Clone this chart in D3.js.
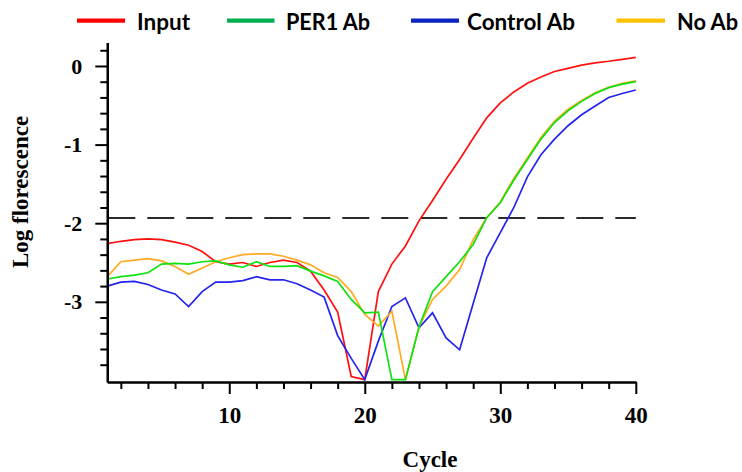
<!DOCTYPE html>
<html>
<head>
<meta charset="utf-8">
<script src="https://cdn.jsdelivr.net/npm/d3@7"></script>
<style>
  html, body { margin: 0; padding: 0; background: #ffffff; }
  svg { display: block; }
</style>
</head>
<body>
<svg id="chart" width="742" height="472"></svg>
<script>
// Amplification cycles
const cycles = [1, 2, 3, 4, 5, 6, 7, 8, 9, 10, 11, 12, 13, 14, 15, 16, 17, 18, 19, 20,
                21, 22, 23, 24, 25, 26, 27, 28, 29, 30, 31, 32, 33, 34, 35, 36, 37, 38, 39, 40];

// Log fluorescence per cycle for each sample
const inputValues = [-2.26, -2.23, -2.21, -2.20, -2.21, -2.24, -2.28, -2.36, -2.49, -2.52,
                     -2.50, -2.55, -2.50, -2.47, -2.50, -2.61, -2.85, -3.13, -3.95, -3.99,
                     -2.87, -2.52, -2.29, -1.97, -1.71, -1.44, -1.19, -0.92, -0.66, -0.47,
                     -0.33, -0.22, -0.14, -0.07, -0.03, 0.01, 0.04, 0.06, 0.085, 0.11];
const per1Values = [-2.71, -2.68, -2.66, -2.63, -2.52, -2.51, -2.52, -2.49, -2.48, -2.53,
                    -2.56, -2.49, -2.55, -2.55, -2.54, -2.61, -2.67, -2.74, -2.97, -3.14,
                    -3.13, -3.99, -3.99, -3.32, -2.87, -2.68, -2.49, -2.27, -1.93, -1.74,
                    -1.45, -1.19, -0.93, -0.72, -0.57, -0.45, -0.35, -0.275, -0.23, -0.20];
const controlValues = [-2.80, -2.75, -2.74, -2.78, -2.85, -2.90, -3.06, -2.87, -2.75, -2.75,
                       -2.73, -2.68, -2.72, -2.72, -2.77, -2.85, -2.94, -3.43, -3.72, -3.99,
                       -3.50, -3.06, -2.95, -3.33, -3.14, -3.46, -3.61, -3.02, -2.44, -2.12,
                       -1.80, -1.41, -1.13, -0.93, -0.76, -0.62, -0.51, -0.40, -0.35, -0.305];
const noAbValues = [-2.68, -2.49, -2.47, -2.45, -2.48, -2.55, -2.65, -2.57, -2.49, -2.44,
                    -2.40, -2.39, -2.39, -2.42, -2.47, -2.53, -2.63, -2.69, -2.87, -3.16,
                    -3.31, -3.12, -3.99, -3.32, -2.97, -2.80, -2.59, -2.21, -1.93, -1.73,
                    -1.43, -1.17, -0.91, -0.70, -0.55, -0.44, -0.34, -0.27, -0.22, -0.19];

// Detection threshold
const thresholdValue = -1.935;

// Legend text, in drawing order
const legendLabels = ["Input", "PER1 Ab", "Control Ab", "No Ab"];

// Axis ticks
const xMajorTicks = [10, 20, 30, 40];
const xMinorTicks = [2, 4, 6, 8, 12, 14, 16, 18, 22, 24, 26, 28, 32, 34, 36, 38];
const yMajorTicks = [0, -1, -2, -3];
const yMinorTicks = [0.2, -0.2, -0.4, -0.6, -0.8, -1.2, -1.4, -1.6, -1.8,
                     -2.2, -2.4, -2.6, -2.8, -3.2, -3.4, -3.6, -3.8];

const series = [
  { name: legendLabels[0], values: inputValues,   line: "#ff1010", key: "#ff0000" },
  { name: legendLabels[1], values: per1Values,    line: "#10e010", key: "#00b050" },
  { name: legendLabels[2], values: controlValues, line: "#2424f0", key: "#0a22c0" },
  { name: legendLabels[3], values: noAbValues,    line: "#ffaa22", key: "#ffc000" }
];

const svg = d3.select("#chart");

const x = d3.scaleLinear().domain([1, 40]).range([107.3, 635.8]);
const y = d3.scaleLinear().domain([-4.02, 0.3]).range([382, 42.4]);

const serif = "'Liberation Serif', 'Times New Roman', serif";

// Threshold line
svg.append("line")
  .attr("x1", x(1) + 1).attr("x2", x(40))
  .attr("y1", y(thresholdValue)).attr("y2", y(thresholdValue))
  .attr("stroke", "#2a2a2a")
  .attr("stroke-width", 2)
  .attr("stroke-dasharray", "27,12");

// Amplification curves
const line = d3.line()
  .x((d, i) => x(cycles[i]))
  .y(d => y(d));

const drawOrder = [0, 2, 3, 1];
drawOrder.forEach(k => {
  const s = series[k];
  svg.append("path")
    .datum(s.values)
    .attr("fill", "none")
    .attr("stroke", s.line)
    .attr("stroke-width", 1.7)
    .attr("stroke-linejoin", "miter")
    .attr("d", line);
});

// X axis: minor ticks, then labelled major ticks
const xMinor = svg.append("g")
  .attr("transform", `translate(0,${y(-4.02)})`)
  .call(d3.axisBottom(x).tickValues(xMinorTicks).tickSize(7).tickSizeOuter(0).tickFormat(""));
const xMajor = svg.append("g")
  .attr("transform", `translate(0,${y(-4.02)})`)
  .call(d3.axisBottom(x).tickValues(xMajorTicks).tickSize(12).tickSizeOuter(0).tickPadding(13));

// Y axis
const yMinor = svg.append("g")
  .attr("transform", `translate(${x(1)},0)`)
  .call(d3.axisLeft(y).tickValues(yMinorTicks).tickSize(7).tickSizeOuter(0).tickFormat(""));
const yMajor = svg.append("g")
  .attr("transform", `translate(${x(1)},0)`)
  .call(d3.axisLeft(y).tickValues(yMajorTicks).tickSize(12).tickSizeOuter(0).tickPadding(13)
        .tickFormat(d => d === 0 ? "0" : "-" + Math.abs(d)));

[xMinor, xMajor, yMinor, yMajor].forEach(g => {
  g.select(".domain").attr("stroke", "#000").attr("stroke-width", 2.2);
  g.selectAll(".tick line").attr("stroke", "#000").attr("stroke-width", 2);
  g.selectAll(".tick text")
    .attr("fill", "#000")
    .style("font-family", serif)
    .style("font-weight", "bold")
    .style("font-size", "22px");
});
xMajor.selectAll(".tick text").attr("dy", "0.71em").style("font-size", "23px");

// Axis titles
svg.append("text")
  .attr("x", 430).attr("y", 467)
  .attr("text-anchor", "middle")
  .style("font-family", serif).style("font-weight", "bold").style("font-size", "23px")
  .text("Cycle");

svg.append("text")
  .attr("transform", "translate(28,192) rotate(-90)")
  .attr("text-anchor", "middle")
  .style("font-family", serif).style("font-weight", "bold").style("font-size", "23px")
  .text("Log florescence");

// Legend
const legendLayout = [
  { x1: 77, x2: 125, tx: 137, w: 53 },
  { x1: 227, x2: 274.5, tx: 286, w: 84 },
  { x1: 411, x2: 459, tx: 467, w: 108 },
  { x1: 616.5, x2: 665, tx: 677, w: 61 }
];
const legend = svg.append("g");
series.forEach((s, i) => {
  const L = legendLayout[i];
  legend.append("line")
    .attr("x1", L.x1).attr("x2", L.x2)
    .attr("y1", 20.7).attr("y2", 20.7)
    .attr("stroke", s.key).attr("stroke-width", 4.2);
  legend.append("text")
    .attr("x", L.tx).attr("y", 30)
    .attr("textLength", L.w).attr("lengthAdjust", "spacingAndGlyphs")
    .style("font-family", "Lato, 'Open Sans', sans-serif")
    .style("font-weight", "bold").style("font-size", "22px")
    .attr("fill", "#000")
    .text(s.name);
});
</script>
</body>
</html>
